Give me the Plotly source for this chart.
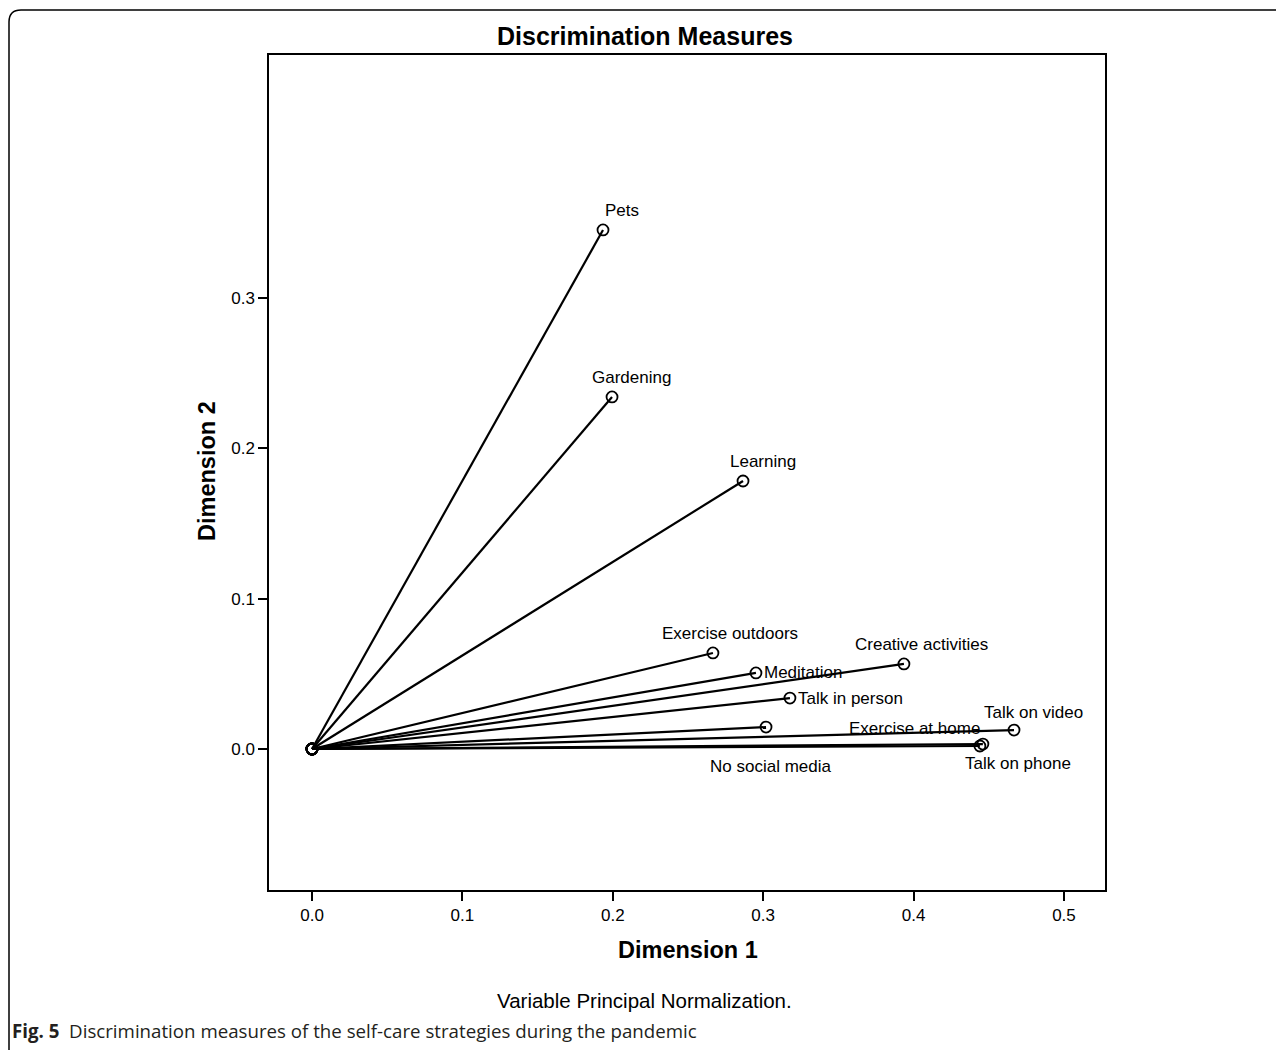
import plotly.graph_objects as go

# page has an 8px body margin, so figure is shifted; compensate
OFF = 8
W, H = 1284 - OFF, 1050 - OFF

variables = ["Pets", "Gardening", "Learning", "Exercise outdoors", "Creative activities",
             "Meditation", "Talk in person", "No social media", "Talk on video",
             "Exercise at home", "Talk on phone"]
dim1 = [0.1935, 0.1995, 0.2866, 0.2666, 0.3936, 0.2952, 0.3178, 0.3019, 0.4668, 0.4461, 0.4441]
dim2 = [0.3453, 0.2342, 0.1783, 0.0639, 0.0566, 0.0506, 0.0339, 0.0146, 0.0126, 0.0033, 0.0020]

x_ticks = [0.0, 0.1, 0.2, 0.3, 0.4, 0.5]
y_ticks = [0.0, 0.1, 0.2, 0.3]

FONT = "Liberation Sans, Arial, sans-serif"

# label offsets in pixels (dx, dy up-positive, anchor)
label_style = {
    "Pets": (19, 19, "center"),
    "Gardening": (19, 19, "center"),
    "Learning": (20, 19, "center"),
    "Exercise outdoors": (17, 19, "center"),
    "Creative activities": (18, 19, "center"),
    "Meditation": (6, 0, "left"),
    "Talk in person": (6, 0, "left"),
    "No social media": (4, -39, "center"),
    "Talk on video": (19, 18, "center"),
    "Exercise at home": (-68, 16, "center"),
    "Talk on phone": (38, -17, "center"),
}

def px(x):
    return (x - OFF) / W

def py(y):
    return 1 - (y - OFF) / H

fig = go.Figure()
for name, x, y in zip(variables, dim1, dim2):
    fig.add_trace(go.Scatter(
        x=[0, x], y=[0, y], mode="lines+markers",
        line=dict(color="black", width=2.2),
        marker=dict(symbol="circle-open", size=11, color="black", line=dict(width=1.8)),
        showlegend=False, hoverinfo="skip",
    ))

annotations = []
for name, x, y in zip(variables, dim1, dim2):
    dx, dy, anchor = label_style[name]
    annotations.append(dict(
        x=x, y=y, xref="x", yref="y", text=name, showarrow=False,
        xanchor=anchor, yanchor="middle", xshift=dx, yshift=dy,
        font=dict(family=FONT, size=17, color="black"),
    ))

annotations += [
    dict(x=px(645), y=py(36), xref="paper", yref="paper", text="<b>Discrimination Measures</b>",
         showarrow=False, xanchor="center", yanchor="middle",
         font=dict(family=FONT, size=25, color="black")),
    dict(x=px(688), y=py(950), xref="paper", yref="paper", text="<b>Dimension 1</b>",
         showarrow=False, xanchor="center", yanchor="middle",
         font=dict(family=FONT, size=23.5, color="black")),
    dict(x=px(207), y=py(471), xref="paper", yref="paper", text="<b>Dimension 2</b>",
         showarrow=False, xanchor="center", yanchor="middle", textangle=-90,
         font=dict(family=FONT, size=23.5, color="black")),
    dict(x=px(644), y=py(1000), xref="paper", yref="paper", text="Variable Principal Normalization.",
         showarrow=False, xanchor="center", yanchor="middle",
         font=dict(family=FONT, size=20.5, color="black")),
    dict(x=px(10), y=py(1030), xref="paper", yref="paper",
         text="<b>Fig. 5</b>  Discrimination measures of the self-care strategies during the pandemic",
         showarrow=False, xanchor="left", yanchor="middle",
         font=dict(family="Open Sans", size=18.7, color="#231f20")),
]

axis_common = dict(
    showgrid=False, zeroline=False, showline=True, linecolor="black", linewidth=1.5,
    mirror=True, ticks="outside", ticklen=9, tickwidth=1.5, tickcolor="black",
    tickfont=dict(family=FONT, size=17, color="black"),
    tickformat=".1f",
)

fig.update_layout(
    width=W, height=H,
    margin=dict(l=0, r=0, t=0, b=0),
    paper_bgcolor="white", plot_bgcolor="white",
    xaxis=dict(domain=[px(269), px(1105)], range=[-0.0286, 0.5273], tickvals=x_ticks, **axis_common),
    yaxis=dict(domain=[py(890), py(55)], range=[-0.0938, 0.4617], tickvals=y_ticks, **axis_common),
    annotations=annotations,
    shapes=[dict(
        type="path", xref="paper", yref="paper",
        path=f"M {px(9)},0 L {px(9)},{py(22)} Q {px(9)},{py(10)} {px(21)},{py(10)} L 1,{py(10)}",
        line=dict(color="black", width=1.5),
    )],
)

fig.write_html("out.html")
